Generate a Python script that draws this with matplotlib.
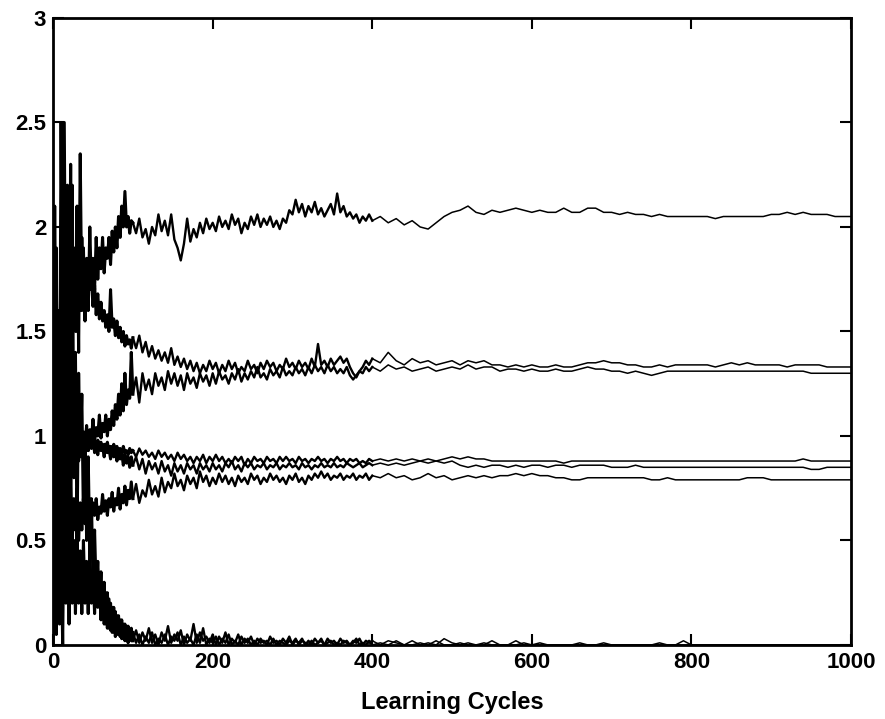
import numpy as np
import matplotlib.pyplot as plt

# weight trajectories
# each series in three parts: cycles 0-100 (step 2), 100-400 (step 4), 400-1000 (step 10)

w1_early = [1.0, 2.1, 1.2, 1.6, 0.9, 2.5, 1.4, 2.5, 1.3, 2.2, 1.5, 2.3, 1.4, 1.9, 1.5, 2.1, 1.4, 2.35, 1.6, 1.9,
            1.55, 1.85, 1.6, 2.0, 1.7, 1.85, 1.7, 1.95, 1.75, 1.9, 1.8, 1.95, 1.78, 1.9, 1.85, 1.95, 1.82, 1.98, 1.88, 2.0,
            1.9, 2.05, 1.95, 2.1, 2.0, 2.17, 2.0, 2.05, 1.97, 2.03]
w1_mid = [2.02, 1.97, 2.04, 1.95, 1.99, 1.92, 2.0, 1.96, 2.06, 1.98, 2.03, 1.96, 2.06, 1.94, 1.9, 1.84, 1.92, 2.04, 1.93, 1.99,
          1.95, 2.02, 1.97, 2.04, 1.99,
          2.02, 1.98, 2.05, 2.0, 2.03, 1.99, 2.06, 2.01, 2.04, 1.97, 2.02, 1.99, 2.05, 2.01, 2.06, 2.0, 2.04, 2.01, 2.05, 2.0,
          2.03, 1.99, 2.04, 2.02, 2.08,
          2.06, 2.13, 2.07, 2.11, 2.05, 2.1, 2.07, 2.12, 2.06, 2.09, 2.05, 2.08, 2.11, 2.06, 2.16, 2.07, 2.1, 2.05, 2.07, 2.04,
          2.06, 2.02, 2.05, 2.03, 2.06]
w1_late = [2.03, 2.05, 2.02, 2.04, 2.01, 2.03, 2.0, 1.99, 2.02, 2.05, 2.07, 2.08, 2.1, 2.07, 2.06, 2.08, 2.07, 2.08, 2.09, 2.08,
           2.07, 2.08, 2.07, 2.07, 2.09, 2.07, 2.07, 2.09, 2.09, 2.07, 2.07, 2.06, 2.07, 2.06, 2.06, 2.05, 2.06, 2.05, 2.05, 2.05,
           2.05, 2.05, 2.05, 2.04, 2.05, 2.05, 2.05, 2.05, 2.05, 2.05, 2.06, 2.06, 2.07, 2.06, 2.07, 2.06, 2.06, 2.06, 2.05, 2.05,
           2.05]

w2_early = [1.5, 0.9, 1.7, 1.2, 1.6, 1.3, 1.8, 1.4, 1.9, 1.5, 1.7, 1.4, 1.9, 1.55, 1.8, 1.5, 1.85, 1.6, 1.95, 1.7,
            1.8, 1.65, 1.85, 1.7, 1.75, 1.62, 1.72, 1.58, 1.68, 1.56, 1.64, 1.55, 1.6, 1.52, 1.58, 1.5, 1.7, 1.52, 1.56, 1.48,
            1.55, 1.47, 1.52, 1.45, 1.5, 1.43, 1.48, 1.44, 1.46, 1.42]
w2_mid = [1.47, 1.42, 1.48, 1.4, 1.45, 1.38, 1.43, 1.37, 1.41, 1.36, 1.4, 1.35, 1.42, 1.34, 1.38, 1.33, 1.37, 1.32, 1.36, 1.31,
          1.35, 1.3, 1.34, 1.31, 1.36,
          1.32, 1.35, 1.3, 1.34, 1.31, 1.36, 1.32, 1.35, 1.3, 1.33, 1.31, 1.36, 1.32, 1.34, 1.3, 1.35, 1.32, 1.36, 1.33, 1.35,
          1.31, 1.34, 1.32, 1.37, 1.33,
          1.35, 1.32, 1.36, 1.33, 1.35, 1.32, 1.37, 1.33, 1.44, 1.34, 1.36, 1.33, 1.37, 1.34, 1.36, 1.38, 1.35, 1.37, 1.33, 1.3,
          1.28, 1.31, 1.33, 1.36, 1.34]
w2_late = [1.37, 1.35, 1.4, 1.36, 1.34, 1.37, 1.35, 1.36, 1.34, 1.35, 1.36, 1.34, 1.36, 1.35, 1.36, 1.34, 1.34, 1.33, 1.34, 1.33,
           1.34, 1.33, 1.33, 1.34, 1.33, 1.33, 1.34, 1.35, 1.35, 1.36, 1.35, 1.35, 1.34, 1.34, 1.33, 1.33, 1.34, 1.33, 1.34, 1.34,
           1.34, 1.34, 1.34, 1.33, 1.34, 1.35, 1.34, 1.35, 1.34, 1.34, 1.34, 1.34, 1.33, 1.34, 1.34, 1.34, 1.34, 1.33, 1.33, 1.33,
           1.33]

w3_early = [0.8, 1.2, 0.6, 1.1, 0.7, 1.25, 0.8, 1.1, 0.75, 1.05, 0.85, 1.15, 0.9, 1.0, 0.85, 1.05, 0.9, 1.08, 0.92, 1.02,
            0.95, 1.05, 0.93, 1.03, 0.98, 1.08, 0.97, 1.04, 1.0, 1.1, 0.99, 1.06, 1.02, 1.1, 1.0, 1.08, 1.03, 1.12, 1.05, 1.15,
            1.08, 1.2, 1.1, 1.25, 1.12, 1.3, 1.15, 1.22, 1.18, 1.4]
w3_mid = [1.2, 1.28, 1.16, 1.3, 1.22, 1.27, 1.2, 1.3, 1.24, 1.28, 1.22, 1.31, 1.25, 1.3, 1.24, 1.29, 1.22, 1.3, 1.25, 1.28,
          1.23, 1.3, 1.26, 1.29, 1.24,
          1.3, 1.25, 1.31, 1.27, 1.29, 1.25, 1.3, 1.27, 1.32, 1.26, 1.3, 1.27, 1.31, 1.28, 1.33, 1.28, 1.3, 1.27, 1.32, 1.29,
          1.31, 1.28, 1.33, 1.29, 1.31,
          1.29, 1.33, 1.3, 1.32, 1.29, 1.33, 1.3, 1.34, 1.31, 1.33, 1.3, 1.34, 1.31, 1.33, 1.3, 1.32, 1.3, 1.33, 1.29, 1.27,
          1.29, 1.31, 1.3, 1.33, 1.31]
w3_late = [1.33, 1.31, 1.34, 1.32, 1.33, 1.31, 1.32, 1.33, 1.31, 1.32, 1.33, 1.32, 1.34, 1.32, 1.33, 1.33, 1.31, 1.32, 1.32, 1.31,
           1.32, 1.31, 1.31, 1.32, 1.31, 1.31, 1.32, 1.33, 1.32, 1.32, 1.31, 1.31, 1.3, 1.31, 1.3, 1.29, 1.3, 1.31, 1.31, 1.31,
           1.31, 1.31, 1.31, 1.31, 1.31, 1.31, 1.31, 1.31, 1.31, 1.31, 1.31, 1.31, 1.31, 1.31, 1.31, 1.3, 1.3, 1.3, 1.3, 1.3,
           1.3]

w4_early = [1.1, 0.6, 1.3, 0.8, 1.2, 0.9, 1.0, 0.85, 1.05, 0.9, 1.0, 0.92, 1.02, 0.94, 1.0, 0.95, 1.03, 0.94, 0.99, 0.96,
            1.0, 0.95, 0.98, 0.96, 1.0, 0.95, 0.97, 0.94, 0.98, 0.95, 0.97, 0.93, 0.96, 0.94, 0.97, 0.93, 0.95, 0.92, 0.96, 0.93,
            0.95, 0.92, 0.94, 0.91, 0.95, 0.92, 0.93, 0.91, 0.94, 0.92]
w4_mid = [0.93, 0.9, 0.94, 0.91, 0.93, 0.9, 0.92, 0.89, 0.93, 0.9, 0.92, 0.89, 0.91, 0.88, 0.92, 0.89, 0.91, 0.88, 0.9, 0.87,
          0.9, 0.88, 0.91, 0.87, 0.9,
          0.88, 0.91, 0.88, 0.9, 0.87, 0.89, 0.87, 0.9, 0.88, 0.9, 0.86, 0.89, 0.87, 0.9, 0.88, 0.89, 0.87, 0.9, 0.88, 0.89,
          0.87, 0.9, 0.88, 0.9, 0.88,
          0.89, 0.87, 0.9, 0.88, 0.89, 0.87, 0.89, 0.88, 0.9, 0.88, 0.89, 0.87, 0.89, 0.88, 0.9, 0.88, 0.89, 0.87, 0.89, 0.88,
          0.89, 0.87, 0.88, 0.87, 0.89]
w4_late = [0.88, 0.89, 0.88, 0.89, 0.88, 0.89, 0.88, 0.89, 0.88, 0.89, 0.9, 0.89, 0.9, 0.89, 0.89, 0.88, 0.88, 0.88, 0.88, 0.88,
           0.88, 0.88, 0.88, 0.88, 0.87, 0.88, 0.88, 0.88, 0.88, 0.88, 0.88, 0.88, 0.88, 0.88, 0.88, 0.88, 0.88, 0.88, 0.88, 0.88,
           0.88, 0.88, 0.88, 0.88, 0.88, 0.88, 0.88, 0.88, 0.88, 0.88, 0.88, 0.88, 0.88, 0.88, 0.89, 0.88, 0.88, 0.88, 0.88, 0.88,
           0.88]

w5_early = [0.3, 1.6, 0.5, 1.4, 0.4, 1.2, 0.6, 1.3, 0.7, 1.1, 0.8, 1.2, 0.85, 1.1, 0.9, 1.05, 0.88, 1.02, 0.9, 1.0,
            0.92, 0.98, 0.93, 0.97, 0.94, 0.99, 0.92, 0.96, 0.91, 0.97, 0.93, 0.95, 0.9, 0.96, 0.92, 0.94, 0.89, 0.95, 0.9, 0.93,
            0.88, 0.94, 0.89, 0.92, 0.86, 0.91, 0.87, 0.9, 0.85, 0.9]
w5_mid = [0.86, 0.9, 0.84, 0.89, 0.82, 0.88, 0.84, 0.87, 0.82, 0.88, 0.83, 0.86, 0.81, 0.87, 0.83, 0.86, 0.82, 0.87, 0.84, 0.86,
          0.82, 0.87, 0.84, 0.86, 0.83,
          0.87, 0.84, 0.86, 0.83, 0.87, 0.85, 0.88, 0.84, 0.86, 0.83, 0.87, 0.85, 0.87, 0.84, 0.86, 0.85, 0.87, 0.84, 0.86, 0.85,
          0.87, 0.84, 0.86, 0.85, 0.87,
          0.85, 0.86, 0.84, 0.87, 0.85, 0.86, 0.84, 0.86, 0.85, 0.87, 0.85, 0.86, 0.85, 0.87, 0.85, 0.86, 0.85, 0.87, 0.86, 0.85,
          0.86, 0.87, 0.85, 0.86, 0.87]
w5_late = [0.86, 0.87, 0.86, 0.87, 0.86, 0.87, 0.88, 0.87, 0.88, 0.87, 0.88, 0.86, 0.85, 0.86, 0.85, 0.86, 0.86, 0.85, 0.86, 0.85,
           0.86, 0.86, 0.85, 0.86, 0.86, 0.85, 0.86, 0.86, 0.86, 0.86, 0.85, 0.85, 0.85, 0.86, 0.85, 0.85, 0.85, 0.85, 0.85, 0.85,
           0.85, 0.85, 0.85, 0.85, 0.85, 0.85, 0.85, 0.85, 0.85, 0.85, 0.85, 0.85, 0.85, 0.85, 0.85, 0.84, 0.84, 0.85, 0.85, 0.85,
           0.85]

w6_early = [0.4, 1.0, 0.2, 0.9, 0.3, 0.8, 0.4, 0.9, 0.5, 0.75, 0.45, 0.8, 0.5, 0.7, 0.55, 0.75, 0.5, 0.68, 0.55, 0.7,
            0.58, 0.66, 0.55, 0.64, 0.6, 0.68, 0.62, 0.7, 0.6, 0.66, 0.63, 0.72, 0.64, 0.69, 0.62, 0.7, 0.66, 0.73, 0.64, 0.7,
            0.67, 0.75, 0.65, 0.72, 0.68, 0.76, 0.67, 0.74, 0.7, 0.78]
w6_mid = [0.7, 0.77, 0.68, 0.74, 0.71, 0.79, 0.72, 0.76, 0.71, 0.8, 0.73, 0.78, 0.75, 0.82, 0.76, 0.79, 0.74, 0.81, 0.77, 0.8,
          0.75, 0.83, 0.78, 0.81, 0.76,
          0.8, 0.77, 0.82, 0.78, 0.81, 0.77, 0.8, 0.76, 0.81, 0.78, 0.8, 0.77, 0.82, 0.79, 0.81, 0.77, 0.8, 0.78, 0.82, 0.79,
          0.81, 0.78, 0.8, 0.77, 0.81,
          0.79, 0.82, 0.78, 0.8, 0.77, 0.81, 0.79, 0.82, 0.8, 0.83, 0.8, 0.82, 0.79, 0.81, 0.8, 0.82, 0.79, 0.81, 0.8, 0.82,
          0.79, 0.81, 0.8, 0.82, 0.79]
w6_late = [0.81, 0.8, 0.82, 0.8, 0.81, 0.79, 0.8, 0.82, 0.8, 0.81, 0.79, 0.8, 0.81, 0.8, 0.81, 0.8, 0.81, 0.81, 0.82, 0.81,
           0.82, 0.81, 0.81, 0.8, 0.8, 0.79, 0.79, 0.8, 0.8, 0.8, 0.8, 0.8, 0.8, 0.8, 0.8, 0.79, 0.79, 0.8, 0.79, 0.79,
           0.79, 0.79, 0.79, 0.79, 0.79, 0.79, 0.79, 0.8, 0.8, 0.8, 0.79, 0.79, 0.79, 0.79, 0.79, 0.79, 0.79, 0.79, 0.79, 0.79,
           0.79]

w7_early = [0.0, 0.6, 0.05, 0.7, 0.1, 0.5, 0.0, 0.8, 0.2, 0.55, 0.1, 0.6, 0.2, 0.5, 0.15, 0.55, 0.2, 0.45, 0.15, 0.5,
            0.2, 0.4, 0.15, 0.45, 0.2, 0.35, 0.15, 0.38, 0.18, 0.3, 0.12, 0.28, 0.1, 0.25, 0.08, 0.22, 0.07, 0.18, 0.06, 0.16,
            0.05, 0.14, 0.04, 0.12, 0.03, 0.1, 0.02, 0.09, 0.03, 0.08]
w7_mid = [0.02, 0.07, 0.01, 0.06, 0.02, 0.08, 0.01, 0.05, 0.0, 0.06, 0.02, 0.09, 0.01, 0.05, 0.02, 0.07, 0.0, 0.05, 0.02, 0.1,
          0.01, 0.06, 0.02, 0.04, 0.01,
          0.05, 0.0, 0.04, 0.01, 0.06, 0.0, 0.03, 0.01, 0.05, 0.0, 0.03, 0.01, 0.04, 0.0, 0.03, 0.01, 0.02, 0.0, 0.04, 0.01,
          0.02, 0.0, 0.03, 0.01, 0.04,
          0.0, 0.02, 0.01, 0.03, 0.0, 0.02, 0.0, 0.03, 0.01, 0.02, 0.0, 0.03, 0.01, 0.02, 0.0, 0.03, 0.01, 0.02, 0.0, 0.02,
          0.01, 0.03, 0.0, 0.02, 0.01]
w7_late = [0.02, 0.0, 0.02, 0.01, 0.0, 0.02, 0.0, 0.01, 0.0, 0.03, 0.01, 0.0, 0.01, 0.0, 0.01, 0.0, 0.0, 0.0, 0.02, 0.0,
           0.0, 0.01, 0.0, 0.0, 0.0, 0.0, 0.01, 0.0, 0.0, 0.0, 0.0, 0.0, 0.0, 0.0, 0.0, 0.0, 0.01, 0.0, 0.0, 0.0,
           0.0, 0.0, 0.0, 0.0, 0.0, 0.0, 0.0, 0.0, 0.0, 0.0, 0.0, 0.0, 0.0, 0.0, 0.0, 0.0, 0.0, 0.0, 0.0, 0.0,
           0.0]

w8_early = [1.4, 0.2, 1.9, 0.5, 1.5, 0.3, 2.35, 0.7, 1.8, 0.4, 1.6, 0.6, 2.2, 0.8, 1.4, 0.5, 1.3, 0.9, 1.2, 0.6,
            1.0, 0.5, 0.9, 0.45, 0.7, 0.3, 0.55, 0.25, 0.4, 0.2, 0.35, 0.15, 0.3, 0.1, 0.25, 0.08, 0.2, 0.06, 0.18, 0.04,
            0.14, 0.05, 0.12, 0.03, 0.1, 0.02, 0.09, 0.01, 0.07, 0.02]
w8_mid = [0.06, 0.01, 0.05, 0.0, 0.04, 0.01, 0.06, 0.0, 0.03, 0.01, 0.05, 0.0, 0.04, 0.02, 0.06, 0.0, 0.04, 0.01, 0.03, 0.0,
          0.05, 0.01, 0.08, 0.0, 0.03,
          0.01, 0.04, 0.0, 0.03, 0.01, 0.05, 0.0, 0.02, 0.0, 0.04, 0.01, 0.03, 0.0, 0.02, 0.0, 0.03, 0.01, 0.02, 0.0, 0.03,
          0.0, 0.02, 0.01, 0.0, 0.02,
          0.01, 0.03, 0.0, 0.02, 0.01, 0.0, 0.02, 0.0, 0.01, 0.03, 0.0, 0.01, 0.02, 0.0, 0.01, 0.0, 0.02, 0.01, 0.0, 0.01,
          0.03, 0.0, 0.01, 0.0, 0.02]
w8_late = [0.0, 0.01, 0.0, 0.02, 0.0, 0.0, 0.01, 0.0, 0.02, 0.0, 0.0, 0.01, 0.0, 0.0, 0.0, 0.02, 0.0, 0.0, 0.0, 0.01,
           0.0, 0.0, 0.0, 0.0, 0.0, 0.0, 0.0, 0.0, 0.0, 0.01, 0.0, 0.0, 0.0, 0.0, 0.0, 0.0, 0.0, 0.0, 0.0, 0.02,
           0.0, 0.0, 0.0, 0.0, 0.0, 0.0, 0.0, 0.0, 0.0, 0.0, 0.0, 0.0, 0.0, 0.0, 0.0, 0.0, 0.0, 0.0, 0.0, 0.0,
           0.0]

series = [
    (w1_early, w1_mid, w1_late),
    (w2_early, w2_mid, w2_late),
    (w3_early, w3_mid, w3_late),
    (w4_early, w4_mid, w4_late),
    (w5_early, w5_mid, w5_late),
    (w6_early, w6_mid, w6_late),
    (w7_early, w7_mid, w7_late),
    (w8_early, w8_mid, w8_late),
]


def cycles_for(early, mid, late):
    return np.concatenate([
        np.linspace(0, 100, len(early), endpoint=False),
        np.linspace(100, 400, len(mid), endpoint=False),
        np.linspace(400, 1000, len(late)),
    ])


plt.rcParams['font.family'] = ['Liberation Sans', 'DejaVu Sans']
plt.rcParams['font.weight'] = 'bold'

fig = plt.figure(figsize=(8.85, 7.19), dpi=100)
ax = fig.add_axes([0.06, 0.103, 0.9016, 0.872])

for early, mid, late in series:
    x = cycles_for(early, mid, late)
    y = np.concatenate([early, mid, late])
    ne = len(early)
    n = ne + len(mid)
    # noisy start drawn heaviest, settled part thin
    ax.plot(x[:ne + 1], y[:ne + 1], color='black', lw=2.2)
    ax.plot(x[ne:n + 1], y[ne:n + 1], color='black', lw=1.7)
    ax.plot(x[n:], y[n:], color='black', lw=1.1)

ax.set_xlim(0, 1000)
ax.set_ylim(0, 3)
ax.set_xticks([0, 200, 400, 600, 800, 1000])
ax.set_yticks([0, 0.5, 1, 1.5, 2, 2.5, 3])
ax.set_yticklabels(['0', '0.5', '1', '1.5', '2', '2.5', '3'])
ax.tick_params(direction='in', length=8, width=1.5, labelsize=16,
               top=True, right=True, pad=5)
for sp in ax.spines.values():
    sp.set_linewidth(2)
ax.set_xlabel('Learning Cycles', fontsize=17, fontweight='bold', labelpad=13)

fig.savefig('out.png', dpi=100)
